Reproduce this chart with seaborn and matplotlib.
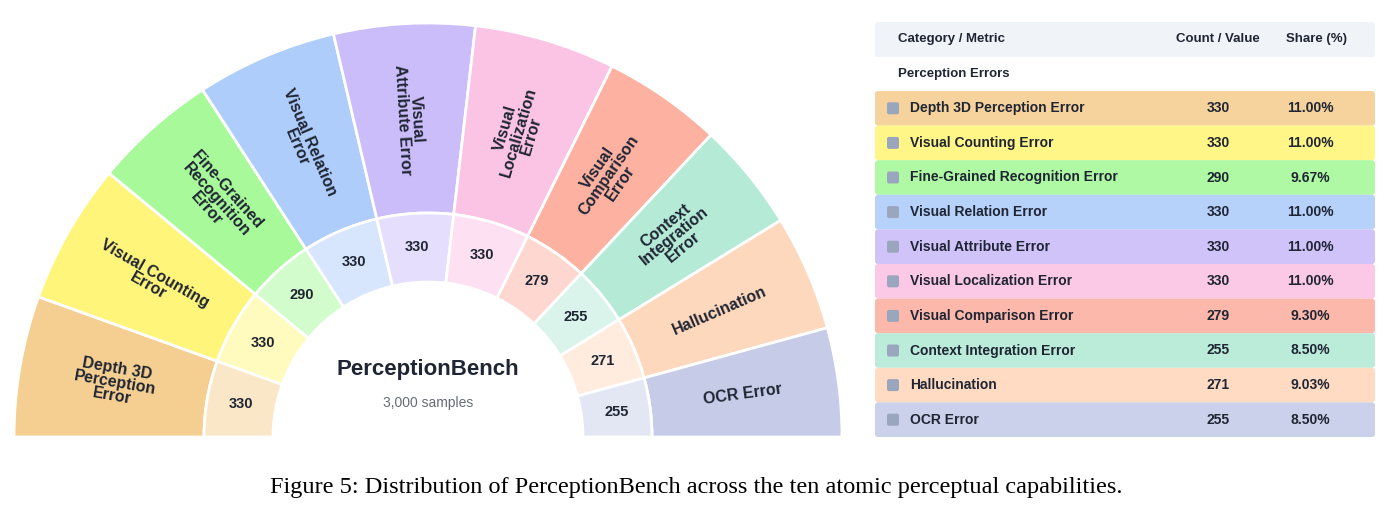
import numpy as np
import matplotlib
matplotlib.use("Agg")
import matplotlib.pyplot as plt
import seaborn as sns
from matplotlib.patches import Wedge, Circle, FancyBboxPatch

categories = ["Depth 3D Perception Error", "Visual Counting Error", "Fine-Grained Recognition Error",
              "Visual Relation Error", "Visual Attribute Error", "Visual Localization Error",
              "Visual Comparison Error", "Context Integration Error", "Hallucination", "OCR Error"]
wedge_labels = ["Depth 3D\nPerception\nError", "Visual Counting\nError", "Fine-Grained\nRecognition\nError",
                "Visual Relation\nError", "Visual\nAttribute Error", "Visual\nLocalization\nError",
                "Visual\nComparison\nError", "Context\nIntegration\nError", "Hallucination", "OCR Error"]
counts = [330, 330, 290, 330, 330, 330, 279, 255, 271, 255]
shares = ["11.00%", "11.00%", "9.67%", "11.00%", "11.00%", "11.00%", "9.30%", "8.50%", "9.03%", "8.50%"]
colors = ["#f5cf91", "#fff57a", "#a7f99a", "#aecdfb", "#cbbdf9", "#fbc3e4",
          "#fcb1a1", "#b4ead6", "#fed8bc", "#c6cce8"]

sns.set_theme(style="white")
plt.rcParams['font.family'] = ['Liberation Sans', 'DejaVu Sans']
dark = "#1f2533"

fig = plt.figure(figsize=(13.93, 5.19), dpi=100)
ax = fig.add_axes([0, 0, 1, 1])
ax.set_xlim(0, 1393)
ax.set_ylim(0, 519)
ax.set_aspect("equal")
ax.axis("off")

cx, cy = 428, 82
r_out, r_mid, r_in = 414, 224, 155
total = sum(counts)
start = 180.0
for lab, lw, c, col in zip(categories, wedge_labels, counts, colors):
    span = 180.0 * c / total
    t2, t1 = start, start - span
    light = tuple(0.5 * np.array(matplotlib.colors.to_rgb(col)) + 0.5)
    ax.add_patch(Wedge((cx, cy), r_out, t1, t2, width=r_out - r_mid, fc=col, ec="white", lw=2))
    ax.add_patch(Wedge((cx, cy), r_mid, t1, t2, width=r_mid - r_in, fc=light, ec="white", lw=2))
    th = (t1 + t2) / 2
    rot = th - 180 if th >= 90 else th
    rad = np.radians(th)
    ax.text(cx + 318 * np.cos(rad), cy + 318 * np.sin(rad), lw, rotation=rot, ha="center", va="center",
            rotation_mode="anchor", fontsize=11.5, fontweight="bold", color=dark, linespacing=0.9)
    ax.text(cx + 190 * np.cos(rad), cy + 190 * np.sin(rad), str(c), ha="center", va="center",
            fontsize=10.5, fontweight="bold", color=dark)
    start = t1
ax.add_patch(Circle((cx, cy), r_in - 1, fc="white", ec="none"))
ax.text(cx, 519 - 370, "PerceptionBench", ha="center", va="center", fontsize=16, fontweight="bold", color=dark)
ax.text(cx, 519 - 403, "3,000 samples", ha="center", va="center", fontsize=10, color="#666b75")

# table
x0, x1 = 875, 1375
ax.add_patch(FancyBboxPatch((x0, 519 - 57), x1 - x0, 35, boxstyle="round,pad=0,rounding_size=3",
                            fc="#f0f3f8", ec="none"))
hy = 519 - 39
ax.text(898, hy, "Category / Metric", ha="left", va="center", fontsize=9.5, fontweight="bold", color=dark)
ax.text(1218, hy, "Count / Value", ha="center", va="center", fontsize=9.5, fontweight="bold", color=dark)
ax.text(1316, hy, "Share (%)", ha="center", va="center", fontsize=9.5, fontweight="bold", color=dark)
ax.text(898, 519 - 74, "Perception Errors", ha="left", va="center", fontsize=9.5, fontweight="bold", color=dark)
row_h = (437 - 91) / len(categories)
for i, (lab, c, s, col) in enumerate(zip(categories, counts, shares, colors)):
    top = 519 - 91 - i * row_h
    ax.add_patch(FancyBboxPatch((x0, top - row_h), x1 - x0, row_h, boxstyle="round,pad=0,rounding_size=3",
                                fc=col, ec="none", alpha=0.9))
    yc = top - row_h / 2
    ax.add_patch(FancyBboxPatch((887, yc - 6), 12, 12, boxstyle="round,pad=0,rounding_size=2",
                                fc="#9aa6bd", ec="none"))
    ax.text(910, yc, lab, ha="left", va="center", fontsize=10, fontweight="bold", color=dark)
    ax.text(1218, yc, str(c), ha="center", va="center", fontsize=10, fontweight="bold", color=dark)
    ax.text(1310, yc, s, ha="center", va="center", fontsize=10, fontweight="bold", color=dark)

ax.text(696, 519 - 487, "Figure 5: Distribution of PerceptionBench across the ten atomic perceptual capabilities.",
        ha="center", va="center", fontsize=17.5, family=["Liberation Serif", "DejaVu Serif"], color="black")

fig.savefig("out.png", dpi=100)
